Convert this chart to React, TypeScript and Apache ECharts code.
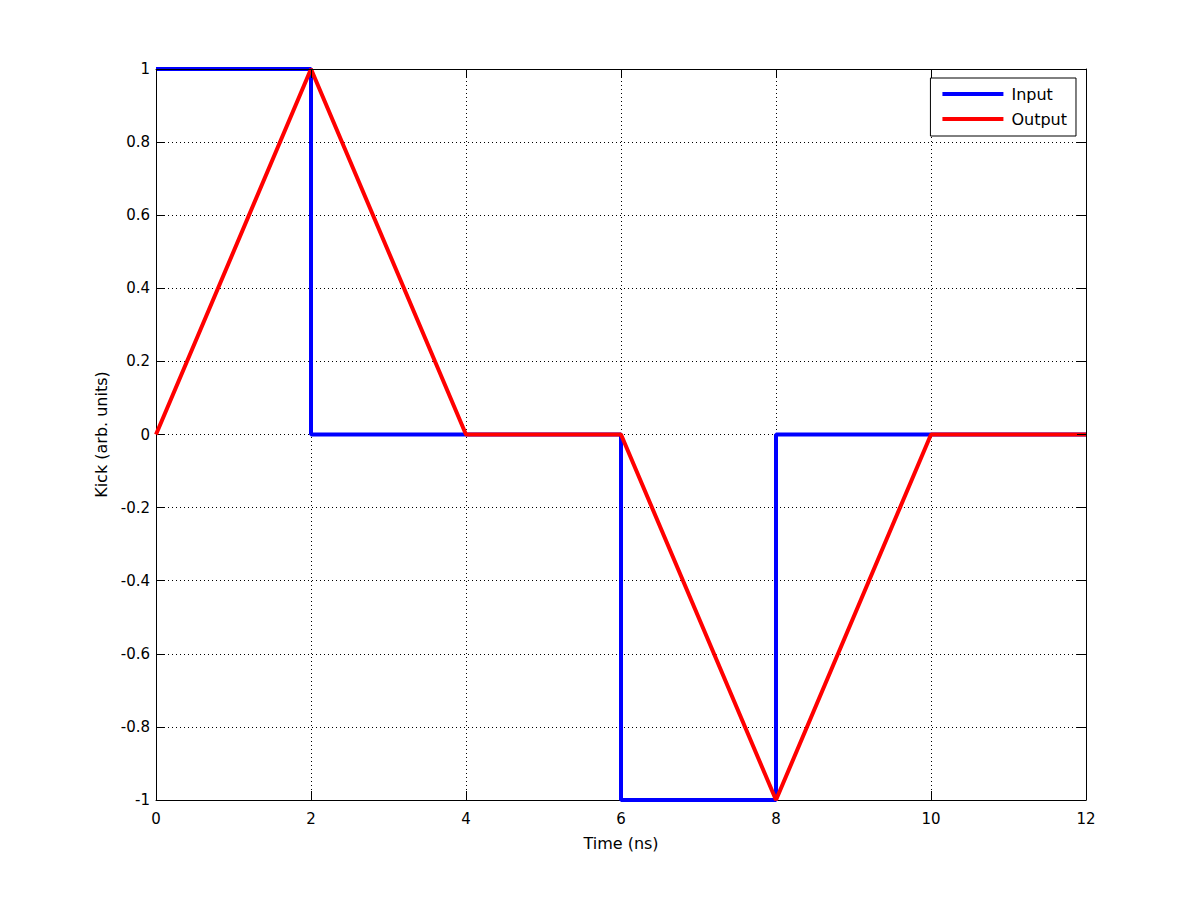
import React, { useEffect, useRef } from "react";
import * as echarts from "echarts";

const inputX = [0, 2, 2, 6, 6, 8, 8, 12];
const inputY = [1, 1, 0, 0, -1, -1, 0, 0];
const outputX = [0, 2, 4, 6, 8, 10, 12];
const outputY = [0, 1, 0, 0, -1, 0, 0];
const xTicks = [0, 2, 4, 6, 8, 10, 12];
const yTicks = [-1, -0.8, -0.6, -0.4, -0.2, 0, 0.2, 0.4, 0.6, 0.8, 1];

const FONT = "DejaVu Sans, Liberation Sans, Arial, sans-serif";

export default function App() {
  const ref = useRef<HTMLDivElement>(null);
  useEffect(() => {
    if (!ref.current) return;
    const chart = echarts.init(ref.current, null, { renderer: "svg" });
    const inputData = inputX.map((x, i) => [x, inputY[i]]);
    const outputData = outputX.map((x, i) => [x, outputY[i]]);
    const fmt = (v: number) => {
      const r = Math.round(v * 10) / 10;
      return String(r);
    };
    const axisCommon = {
      axisLine: { show: true, onZero: false, lineStyle: { color: "#000", width: 1 } },
      axisTick: { show: true, inside: true, length: 9, lineStyle: { color: "#000" } },
    };
    chart.setOption({
      animation: false,
      backgroundColor: "#fff",
      textStyle: { fontFamily: FONT },
      grid: { left: 156, right: 114, top: 69, bottom: 100, containLabel: false },
      legend: {
        orient: "vertical",
        right: 124,
        top: 78,
        backgroundColor: "#fff",
        borderColor: "#000",
        borderWidth: 1,
        borderRadius: 0,
        padding: [8, 9, 9, 12],
        itemGap: 9,
        itemWidth: 61,
        itemHeight: 4,
        icon: "rect",
        textStyle: {
          fontSize: 16,
          color: "#000",
          fontFamily: FONT,
          lineHeight: 16,
          padding: [0, 0, 0, 3],
        },
        data: ["Input", "Output"],
      },
      xAxis: [
        {
          type: "value",
          min: 0,
          max: 12,
          interval: 2,
          position: "bottom",
          ...axisCommon,
          axisLabel: { color: "#000", fontSize: 15, margin: 11, fontFamily: FONT, formatter: fmt },
          splitLine: { show: true, lineStyle: { color: "#000", type: [1, 3], width: 1 } },
          name: "Time (ns)",
          nameLocation: "middle",
          nameGap: 35,
          nameTextStyle: { color: "#000", fontSize: 16, fontFamily: FONT },
        },
        {
          type: "value",
          min: 0,
          max: 12,
          interval: 2,
          position: "top",
          z: 10,
          ...axisCommon,
          axisLabel: { show: false },
          splitLine: { show: false },
        },
      ],
      yAxis: [
        {
          type: "value",
          min: -1,
          max: 1,
          interval: 0.2,
          position: "left",
          ...axisCommon,
          axisLabel: { color: "#000", fontSize: 15, margin: 6, fontFamily: FONT, formatter: fmt },
          splitLine: { show: true, lineStyle: { color: "#000", type: [1, 3], width: 1 } },
          name: "Kick (arb. units)",
          nameLocation: "middle",
          nameGap: 42,
          nameRotate: 90,
          nameTextStyle: { color: "#000", fontSize: 16, fontFamily: FONT },
        },
        {
          type: "value",
          min: -1,
          max: 1,
          interval: 0.2,
          position: "right",
          z: 10,
          ...axisCommon,
          axisLabel: { show: false },
          splitLine: { show: false },
        },
      ],
      series: [
        {
          name: "Input",
          type: "line",
          data: inputData,
          showSymbol: false,
          symbol: "none",
          color: "#0000ff",
          lineStyle: { color: "#0000ff", width: 4 },
          z: 2,
        },
        {
          name: "Output",
          type: "line",
          data: outputData,
          showSymbol: false,
          symbol: "none",
          color: "#ff0000",
          lineStyle: { color: "#ff0000", width: 4 },
          z: 3,
        },
      ],
    });
    return () => chart.dispose();
  }, []);
  return (
    <div
      ref={ref}
      style={{ position: "absolute", left: 0, top: 0, width: 1200, height: 900 }}
    />
  );
}
